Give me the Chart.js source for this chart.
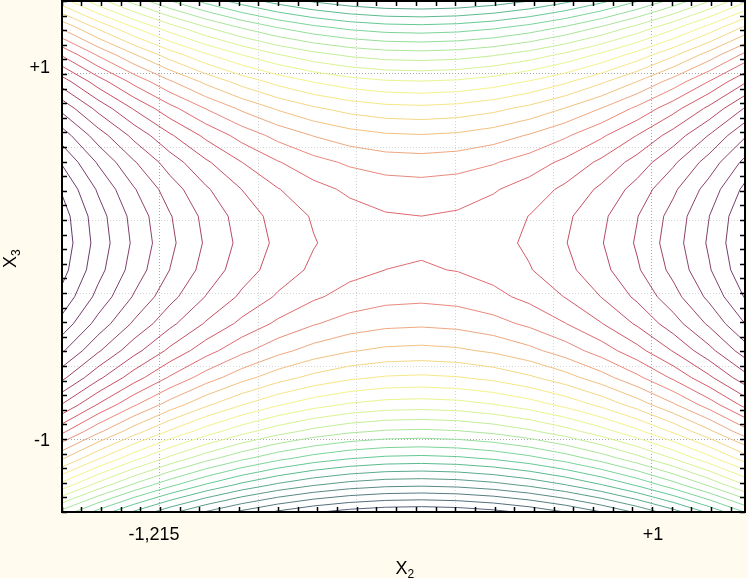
<!DOCTYPE html>
<html>
<head>
<meta charset="utf-8">
<script src="https://cdn.jsdelivr.net/npm/chart.js@4.4.1/dist/chart.umd.min.js"></script>
<style>
  html, body { margin: 0; padding: 0; background: #fffcef; overflow: hidden; }
  canvas { display: block; }
</style>
</head>
<body>
<canvas id="chart" width="748" height="578"></canvas>
<script>
// axis ranges (coded factor units)
const x2Range = [-1.6562, 1.4187];
const x3Range = [-1.4, 1.4];

// gridlines and their labels
const x2GridTicks = [-1.6562, -1.215, -0.772, -0.329, 0.114, 0.557, 1.0];
const x2TickLabels = ['', '-1,215', '', '', '', '', '+1'];
const x3GridTicks = [-1.4, -1.0, -0.6, -0.2, 0.2, 0.6, 1.0, 1.4];
const x3TickLabels = ['', '-1', '', '', '', '', '+1', ''];

// fitted response surface: const, X2, X3, X2^2, X3^2, X2*X3
const modelTerms = ['const', 'X2', 'X3', 'X2^2', 'X3^2', 'X2*X3'];
const modelCoef = [0.0972, 0.4354, 1.6983, 4.069, -9.435, 0];

// contour levels and the colour of each one
const contourLevels = [-20, -19, -18, -17, -16, -15, -14, -13, -12, -11, -10, -9, -8, -7, -6, -5,
  -4, -3, -2, -1, 0, 1, 2, 3, 4, 5, 6, 7, 8, 9, 10];
const levelColors = ['#56627a', '#566e7c', '#587c80', '#5a8a84', '#5a9a88', '#5aaa8c', '#5cba90',
  '#66c894', '#7cd498', '#94de9a', '#ace69a', '#c4ee98', '#daf294', '#eaf490', '#f4f28c', '#f6e888',
  '#f4d886', '#f2c282', '#eea880', '#e88a7c', '#e06a70', '#d45a68', '#c65066', '#b84a66', '#aa4668',
  '#9c446a', '#8e426c', '#82406c', '#763e6c', '#6c3c6c', '#623a6a'];

// surface is sampled on this many cells per side before contouring
const gridCells = 19;

const surface = (x, y) =>
  modelCoef[0] + modelCoef[1] * x + modelCoef[2] * y +
  modelCoef[3] * x * x + modelCoef[4] * y * y + modelCoef[5] * x * y;

const gx = [], gy = [];
for (let i = 0; i <= gridCells; i++) {
  gx.push(x2Range[0] + (x2Range[1] - x2Range[0]) * i / gridCells);
  gy.push(x3Range[0] + (x3Range[1] - x3Range[0]) * i / gridCells);
}
const zz = gy.map(y => gx.map(x => surface(x, y)));

// marching squares, then join the pieces into polylines
function contourLines(level) {
  const points = new Map();
  const edge = (type, i, j) => {
    const key = type + i + ',' + j;
    if (!points.has(key)) {
      let za, zb, x, y;
      if (type === 'h') {
        za = zz[j][i]; zb = zz[j][i + 1];
        const t = (level - za) / (zb - za);
        x = gx[i] + t * (gx[i + 1] - gx[i]); y = gy[j];
      } else {
        za = zz[j][i]; zb = zz[j + 1][i];
        const t = (level - za) / (zb - za);
        x = gx[i]; y = gy[j] + t * (gy[j + 1] - gy[j]);
      }
      points.set(key, { x, y });
    }
    return key;
  };
  const segs = [];
  for (let j = 0; j < gridCells; j++) {
    for (let i = 0; i < gridCells; i++) {
      const z00 = zz[j][i], z10 = zz[j][i + 1], z11 = zz[j + 1][i + 1], z01 = zz[j + 1][i];
      const up = [z00 >= level, z10 >= level, z11 >= level, z01 >= level];
      const hit = [];
      if (up[0] !== up[1]) hit.push(['b', edge('h', i, j)]);
      if (up[1] !== up[2]) hit.push(['r', edge('v', i + 1, j)]);
      if (up[2] !== up[3]) hit.push(['t', edge('h', i, j + 1)]);
      if (up[3] !== up[0]) hit.push(['l', edge('v', i, j)]);
      if (hit.length === 2) {
        segs.push([hit[0][1], hit[1][1]]);
      } else if (hit.length === 4) {
        const centre = (z00 + z10 + z11 + z01) / 4 >= level;
        const k = Object.fromEntries(hit);
        if (centre === up[0]) { segs.push([k.b, k.r]); segs.push([k.t, k.l]); }
        else { segs.push([k.l, k.b]); segs.push([k.r, k.t]); }
      }
    }
  }
  const byKey = new Map();
  segs.forEach((s, idx) => s.forEach(key => {
    if (!byKey.has(key)) byKey.set(key, []);
    byKey.get(key).push(idx);
  }));
  const used = segs.map(() => false);
  const walk = (idx, key) => {
    const pts = [points.get(key)];
    while (idx !== undefined && !used[idx]) {
      used[idx] = true;
      const next = segs[idx][0] === key ? segs[idx][1] : segs[idx][0];
      pts.push(points.get(next));
      key = next;
      idx = byKey.get(key).find(n => !used[n]);
    }
    return pts;
  };
  const lines = [];
  byKey.forEach((list, key) => {
    if (list.length === 1 && !used[list[0]]) lines.push(walk(list[0], key));
  });
  segs.forEach((s, idx) => { if (!used[idx]) lines.push(walk(idx, s[0])); });
  return lines;
}

const datasets = [];
contourLevels.forEach((level, n) => {
  contourLines(level).forEach(pts => {
    datasets.push({
      label: 'z = ' + level,
      data: pts,
      showLine: true,
      borderColor: levelColors[n],
      borderWidth: 1,
      pointRadius: 0,
      tension: 0,
      fill: false
    });
  });
});

// minor tick positions, five per grid step
const x2Step = (x2GridTicks[2] - x2GridTicks[1]) / 5;
const x3Step = (x3GridTicks[2] - x3GridTicks[1]) / 5;
const x2Minor = [], x3Minor = [];
for (let v = x2GridTicks[1] - 5 * x2Step; v <= x2Range[1] + 1e-6; v += x2Step) x2Minor.push(v);
for (let v = x3Range[0]; v <= x3Range[1] + 1e-6; v += x3Step) x3Minor.push(v);

const fontFamily = "'Liberation Sans', Arial, sans-serif";
const titleFont = '18px ' + fontFamily;
const subFont = '12px ' + fontFamily;

const plotFrame = {
  id: 'plotFrame',
  beforeDraw(chart) {
    const { ctx, chartArea: a } = chart;
    ctx.save();
    ctx.fillStyle = '#fffcef';
    ctx.fillRect(0, 0, chart.width, chart.height);
    ctx.fillStyle = '#ffffff';
    ctx.fillRect(a.left, a.top, a.right - a.left, a.bottom - a.top);
    ctx.restore();
  },
  afterDraw(chart) {
    const { ctx, chartArea: a, scales } = chart;
    ctx.save();
    ctx.strokeStyle = '#000';
    ctx.lineWidth = 1.5;
    ctx.beginPath();
    x2Minor.forEach(v => {
      const px = Math.round(scales.x.getPixelForValue(v)) + 0.5;
      ctx.moveTo(px, a.bottom); ctx.lineTo(px, a.bottom - 5);
      ctx.moveTo(px, a.top); ctx.lineTo(px, a.top + 5);
    });
    x3Minor.forEach(v => {
      const py = Math.round(scales.y.getPixelForValue(v)) + 0.5;
      ctx.moveTo(a.left, py); ctx.lineTo(a.left + 5, py);
      ctx.moveTo(a.right, py); ctx.lineTo(a.right - 5, py);
    });
    ctx.stroke();
    ctx.lineWidth = 2;
    ctx.strokeRect(a.left, a.top, a.right - a.left, a.bottom - a.top);

    // tick labels (Statistica nudges them a little off the gridline)
    ctx.fillStyle = '#000';
    ctx.textBaseline = 'alphabetic';
    ctx.font = titleFont;
    ctx.textAlign = 'center';
    x2GridTicks.forEach((v, i) => {
      const text = x2TickLabels[i];
      if (!text) return;
      const nudge = text.startsWith('-') ? -6 : 1;
      ctx.fillText(text, scales.x.getPixelForValue(v) + nudge, a.bottom + 28);
    });
    ctx.textAlign = 'right';
    x3GridTicks.forEach((v, i) => {
      const text = x3TickLabels[i];
      if (!text) return;
      const nudge = text.startsWith('-') ? 7 : -1.5;
      ctx.fillText(text, a.left - 12, scales.y.getPixelForValue(v) + nudge);
    });

    // axis titles with subscripts
    ctx.textAlign = 'left';
    ctx.font = titleFont;
    const cx = (a.left + a.right) / 2;
    ctx.fillText('X', cx - 8, 574);
    ctx.font = subFont;
    ctx.fillText('2', cx + 4, 578);
    ctx.translate(16, 268);
    ctx.rotate(-Math.PI / 2);
    ctx.font = titleFont;
    ctx.fillText('X', 0, 0);
    ctx.font = subFont;
    ctx.fillText('3', 12, 4);
    ctx.restore();
  }
};

new Chart(document.getElementById('chart'), {
  type: 'scatter',
  data: { datasets },
  options: {
    responsive: false,
    animation: false,
    events: [],
    layout: { padding: { left: 0, right: 3, top: 1, bottom: 0 } },
    plugins: { legend: { display: false }, tooltip: { enabled: false } },
    scales: {
      x: {
        type: 'linear',
        min: x2Range[0],
        max: x2Range[1],
        afterFit: s => { s.height = 66; s.paddingLeft = 0; s.paddingRight = 0; },
        afterBuildTicks: s => { s.ticks = x2GridTicks.map(v => ({ value: v })); },
        ticks: { display: false },
        grid: {
          drawTicks: false, lineWidth: 1,
          color: c => x2TickLabels[c.index] ? '#a8a8a8' : '#d4d4d4'
        },
        border: { display: false, dash: [1, 2] }
      },
      y: {
        type: 'linear',
        min: x3Range[0],
        max: x3Range[1],
        afterFit: s => { s.width = 62; s.paddingTop = 0; s.paddingBottom = 0; },
        afterBuildTicks: s => { s.ticks = x3GridTicks.map(v => ({ value: v })); },
        ticks: { display: false },
        grid: {
          drawTicks: false, lineWidth: 1,
          color: c => x3TickLabels[c.index] ? '#a8a8a8' : '#d4d4d4'
        },
        border: { display: false, dash: [1, 2] }
      }
    }
  },
  plugins: [plotFrame]
});
</script>
</body>
</html>
